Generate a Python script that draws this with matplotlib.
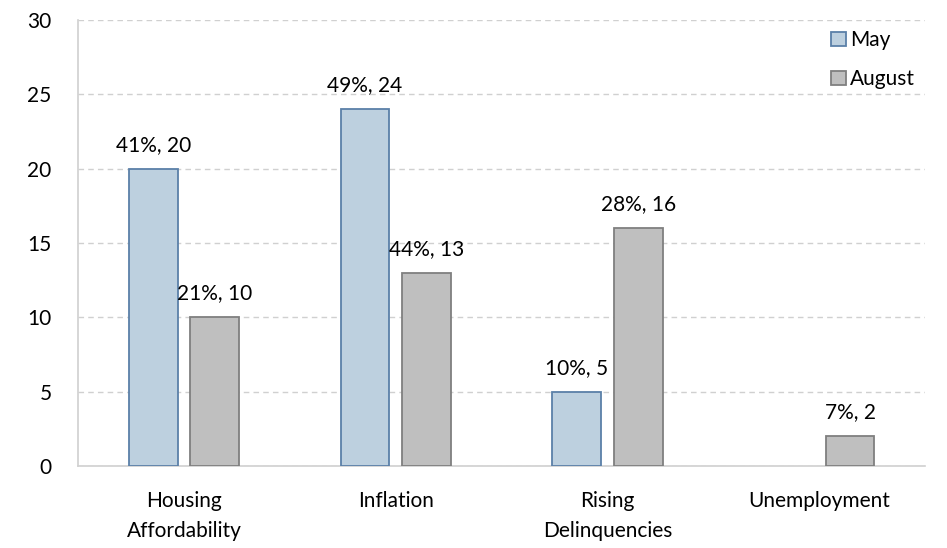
import numpy as np
import matplotlib.pyplot as plt

categorias = ["Housing\nAffordability", "Inflation", "Rising\nDelinquencies", "Unemployment"]
may_vals = [20, 24, 5, 0]
aug_vals = [10, 13, 16, 2]
may_pct = ["41%", "49%", "10%", None]
aug_pct = ["21%", "44%", "28%", "7%"]

plt.rcParams['font.family'] = ['Lato', 'DejaVu Sans']
fs = 15

fig = plt.figure(figsize=(9.47, 5.48), dpi=100)
ax = fig.add_axes([0.0824, 0.1496, 0.8946, 0.8139])

x = np.arange(len(categorias))
ancho = 0.23
desp = 0.145

# barras (sin barra para May en Unemployment)
x_may = [xi - desp for xi, v in zip(x, may_vals) if v > 0]
v_may = [v for v in may_vals if v > 0]
ax.bar(x_may, v_may, ancho, color="#BDD0DF", edgecolor="#5B80A8", linewidth=1.3, label="May", zorder=3)
ax.bar(x + desp, aug_vals, ancho, color="#BFBFBF", edgecolor="#7F7F7F", linewidth=1.3, label="August", zorder=3)

# etiquetas
for xi, v, p in zip(x, may_vals, may_pct):
    if p is not None and v > 0:
        ax.annotate(f"{p}, {v}", (xi - desp, v), xytext=(0, 10), textcoords="offset points",
                    ha="center", va="bottom", fontsize=fs)
for xi, v, p in zip(x, aug_vals, aug_pct):
    ax.annotate(f"{p}, {v}", (xi + desp, v), xytext=(0, 10), textcoords="offset points",
                ha="center", va="bottom", fontsize=fs)

ax.set_xlim(-0.5, 3.5)
ax.set_ylim(0, 30)
ax.set_yticks(range(0, 31, 5))
ax.set_xticks(x)
ax.set_xticklabels(categorias, fontsize=fs, linespacing=1.6)
ax.tick_params(axis="y", labelsize=fs, length=0, pad=19)
ax.tick_params(axis="x", length=0, pad=18)

ax.grid(axis="y", color="#D0D0D0", linestyle=(0, (4, 3)), linewidth=1, zorder=0)
for s in ["top", "right"]:
    ax.spines[s].set_visible(False)
ax.spines["left"].set_color("#D0D0D0")
ax.spines["bottom"].set_color("#D0D0D0")
ax.spines["left"].set_linewidth(1.2)
ax.spines["bottom"].set_linewidth(1.2)

ax.legend(loc="upper right", bbox_to_anchor=(1.0, 1.0), frameon=False, fontsize=fs,
          handlelength=0.7, handleheight=0.7, handletextpad=0.2, labelspacing=0.9,
          borderaxespad=0.1)

plt.savefig("out.png", dpi=100)
